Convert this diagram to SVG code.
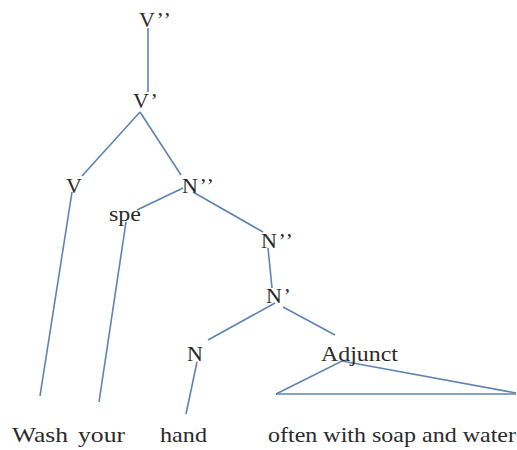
<svg xmlns="http://www.w3.org/2000/svg" width="517" height="450" viewBox="0 0 517 450">
<style>
.t{font-family:"Liberation Serif","Times New Roman",serif;font-size:22px;fill:#2a2a2a}
.p{letter-spacing:1.5px}
.e{stroke:#5b84b4;stroke-width:1.6;fill:none}
</style>
<rect width="517" height="450" fill="#fff"/>
<g id="connectors">
<line class="e" x1="148" y1="28" x2="148" y2="92"/>
<line class="e" x1="140" y1="112" x2="82" y2="176"/>
<line class="e" x1="140" y1="112" x2="181" y2="175"/>
<line class="e" x1="72" y1="192" x2="40" y2="396"/>
<line class="e" x1="183" y1="188" x2="137" y2="210"/>
<line class="e" x1="193" y1="192" x2="263" y2="232"/>
<line class="e" x1="126" y1="222" x2="99" y2="402"/>
<line class="e" x1="268" y1="248" x2="272" y2="288"/>
<line class="e" x1="275" y1="303" x2="208" y2="340"/>
<line class="e" x1="283" y1="307" x2="335" y2="335"/>
<line class="e" x1="197" y1="362" x2="186" y2="414"/>
<polyline class="e" points="276,394 342,361 516,393"/>
<line class="e" x1="276" y1="394" x2="516" y2="394"/>
</g>
<g id="n-vpp"><text class="t p" x="139" y="27">V’’</text></g>
<g id="n-vp"><text class="t p" x="133" y="108">V’</text></g>
<g id="n-v"><text class="t" x="66" y="193">V</text></g>
<g id="n-npp1"><text class="t p" x="182" y="193">N’’</text></g>
<g id="n-spe"><text class="t" x="109" y="221" textLength="32" lengthAdjust="spacingAndGlyphs">spe</text></g>
<g id="n-npp2"><text class="t p" x="261" y="248">N’’</text></g>
<g id="n-np"><text class="t p" x="266" y="303">N’</text></g>
<g id="n-n"><text class="t" x="187" y="361">N</text></g>
<g id="n-adj"><text class="t" x="321" y="361" textLength="77" lengthAdjust="spacingAndGlyphs">Adjunct</text></g>
<g id="words">
<text class="t" x="12" y="442" textLength="56" lengthAdjust="spacingAndGlyphs">Wash</text>
<text class="t" x="78" y="442" textLength="47" lengthAdjust="spacingAndGlyphs">your</text>
<text class="t" x="160" y="442" textLength="47" lengthAdjust="spacingAndGlyphs">hand</text>
<text class="t" x="268" y="442" textLength="248" lengthAdjust="spacingAndGlyphs">often with soap and water</text>
</g>
</svg>
